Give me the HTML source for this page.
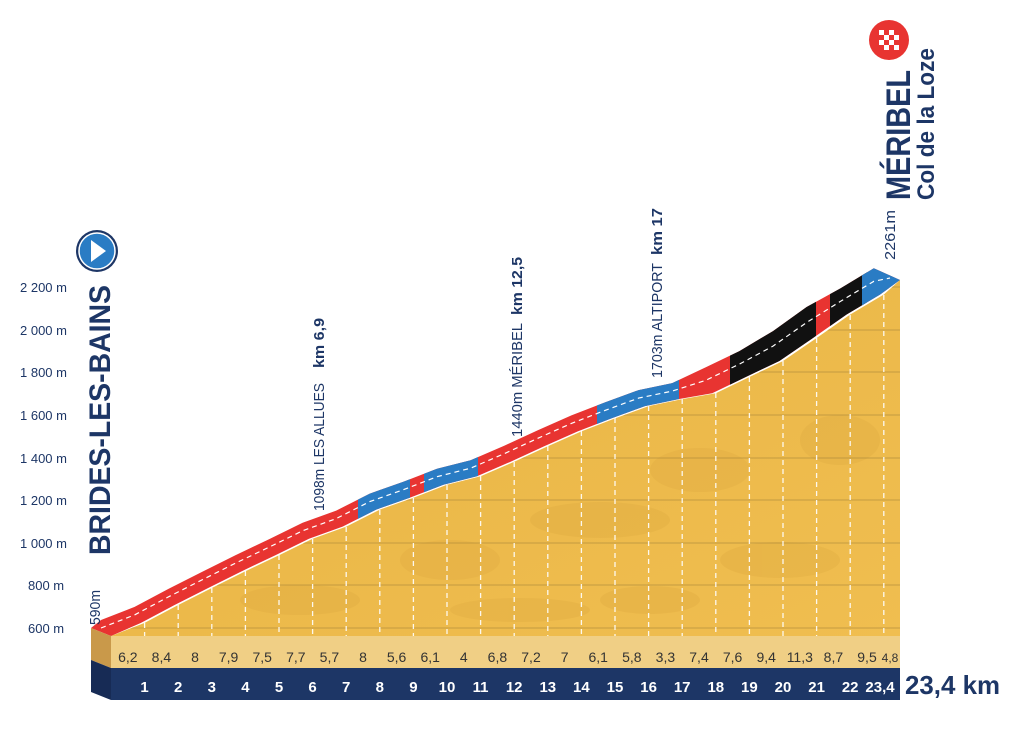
<!DOCTYPE html>
<html><head><meta charset="utf-8"><style>
html,body{margin:0;padding:0;background:#fff;}
svg{display:block;font-family:"Liberation Sans",sans-serif;}
</style></head><body>
<svg width="1024" height="730" viewBox="0 0 1024 730" xmlns="http://www.w3.org/2000/svg">
<defs>
<linearGradient id="yel" x1="0" y1="0" x2="1" y2="1">
<stop offset="0" stop-color="#f3c24c"/><stop offset="0.5" stop-color="#ecb94a"/><stop offset="1" stop-color="#f0be50"/>
</linearGradient>
<clipPath id="face"><polygon points="111,636 144.6,622.9 178.2,605 211.8,588 245.4,571.2 279,555.2 312.6,538.8 346.2,526.6 379.8,509.6 413.4,497.7 447,484.7 480.6,476.2 514.2,461.7 547.8,446.3 581.4,431.4 615,418.4 648.6,406.1 682.2,399.1 715.8,393.3 749.4,377 783,361 816.6,338 850.2,314.5 883.8,294.5 900,280 900,640 111,640"/></clipPath>
<clipPath id="rib"><polygon points="101,620 134.6,606.9 168.2,589 201.8,572 235.4,555.2 269,539.2 302.6,522.8 336.2,510.6 369.8,493.6 403.4,481.7 437,468.7 470.6,460.2 504.2,445.7 537.8,430.3 571.4,415.4 605,402.4 638.6,390.1 672.2,383.1 705.8,367.3 739.4,351.1 773,331.1 806.6,307 840.2,288.5 873.8,268.3 880,271 900,280 880.2,294.5 846.6,314.5 813,338 779.4,361 745.8,377 712.2,393.3 678.6,399.1 645,406.1 611.4,418.4 577.8,431.4 544.2,446.3 510.6,461.7 477,476.2 443.4,484.7 409.8,497.7 376.2,509.6 342.6,526.6 309,538.8 275.4,555.2 241.8,571.2 208.2,588 174.6,605 141,622.9 111,636 91,628"/></clipPath>
</defs>
<g clip-path="url(#face)">
<rect x="100" y="250" width="820" height="400" fill="url(#yel)"/>
<g fill="#d9a43c" opacity="0.25">
<ellipse cx="300" cy="600" rx="60" ry="15"/><ellipse cx="450" cy="560" rx="50" ry="20"/><ellipse cx="600" cy="520" rx="70" ry="18"/><ellipse cx="700" cy="470" rx="50" ry="22"/><ellipse cx="780" cy="560" rx="60" ry="18"/><ellipse cx="520" cy="610" rx="70" ry="12"/><ellipse cx="840" cy="440" rx="40" ry="25"/><ellipse cx="650" cy="600" rx="50" ry="14"/>
</g>
<g stroke="#a8863a" stroke-width="1" opacity="0.6">
<line x1="111" y1="628" x2="900" y2="628"/><line x1="111" y1="585" x2="900" y2="585"/><line x1="111" y1="543" x2="900" y2="543"/><line x1="111" y1="500" x2="900" y2="500"/><line x1="111" y1="458" x2="900" y2="458"/><line x1="111" y1="415" x2="900" y2="415"/><line x1="111" y1="372" x2="900" y2="372"/><line x1="111" y1="330" x2="900" y2="330"/><line x1="111" y1="287" x2="900" y2="287"/>
</g>
</g>
<g stroke="#fff" stroke-width="1.3" stroke-dasharray="5,4" opacity="0.9">
<line x1="144.6" y1="623" x2="144.6" y2="668"/><line x1="178.2" y1="605" x2="178.2" y2="668"/><line x1="211.8" y1="588" x2="211.8" y2="668"/><line x1="245.4" y1="571" x2="245.4" y2="668"/><line x1="279" y1="555" x2="279" y2="668"/><line x1="312.6" y1="539" x2="312.6" y2="668"/><line x1="346.2" y1="527" x2="346.2" y2="668"/><line x1="379.8" y1="510" x2="379.8" y2="668"/><line x1="413.4" y1="498" x2="413.4" y2="668"/><line x1="447" y1="485" x2="447" y2="668"/><line x1="480.6" y1="476" x2="480.6" y2="668"/><line x1="514.2" y1="462" x2="514.2" y2="668"/><line x1="547.8" y1="446" x2="547.8" y2="668"/><line x1="581.4" y1="431" x2="581.4" y2="668"/><line x1="615" y1="418" x2="615" y2="668"/><line x1="648.6" y1="406" x2="648.6" y2="668"/><line x1="682.2" y1="399" x2="682.2" y2="668"/><line x1="715.8" y1="393" x2="715.8" y2="668"/><line x1="749.4" y1="377" x2="749.4" y2="668"/><line x1="783" y1="361" x2="783" y2="668"/><line x1="816.6" y1="338" x2="816.6" y2="668"/><line x1="850.2" y1="315" x2="850.2" y2="668"/><line x1="883.8" y1="295" x2="883.8" y2="668"/>
</g>
<g clip-path="url(#rib)">
<rect x="80" y="250" width="830" height="400" fill="#e83431"/>
<rect x="358" y="250" width="52" height="400" fill="#2a7cc4"/>
<rect x="424" y="250" width="54" height="400" fill="#2a7cc4"/>
<rect x="597" y="250" width="82" height="400" fill="#2a7cc4"/>
<rect x="730" y="250" width="86" height="400" fill="#111"/>
<rect x="830" y="250" width="37" height="400" fill="#111"/>
<rect x="862" y="250" width="50" height="400" fill="#2a7cc4"/>
</g>
<polyline fill="none" stroke="#fff" stroke-width="1.2" stroke-dasharray="5,4" points="101,628 134.6,614.9 168.2,597 201.8,580 235.4,563.2 269,547.2 302.6,530.8 336.2,518.6 369.8,501.6 403.4,489.7 437,476.7 470.6,468.2 504.2,453.7 537.8,438.3 571.4,423.4 605,410.4 638.6,398.1 672.2,391.1 705.8,380.3 739.4,364.1 773,346.1 806.6,322.5 840.2,301.5 873.8,281.3 890,278"/>
<polygon fill="#c9994a" points="91,628 111,636 111,668 91,660"/>
<polygon fill="#172b55" points="91,660 111,668 111,700 91,692"/>
<rect x="111" y="636" width="789" height="32" fill="#f0cf85"/>
<rect x="111" y="668" width="789" height="32" fill="#1d3666"/>
<g fill="#333" font-size="14" text-anchor="middle">
<text x="127.8" y="662">6,2</text><text x="161.4" y="662">8,4</text><text x="195" y="662">8</text><text x="228.6" y="662">7,9</text><text x="262.2" y="662">7,5</text><text x="295.8" y="662">7,7</text><text x="329.4" y="662">5,7</text><text x="363" y="662">8</text><text x="396.6" y="662">5,6</text><text x="430.2" y="662">6,1</text><text x="463.8" y="662">4</text><text x="497.4" y="662">6,8</text><text x="531" y="662">7,2</text><text x="564.6" y="662">7</text><text x="598.2" y="662">6,1</text><text x="631.8" y="662">5,8</text><text x="665.4" y="662">3,3</text><text x="699" y="662">7,4</text><text x="732.6" y="662">7,6</text><text x="766.2" y="662">9,4</text><text x="799.8" y="662">11,3</text><text x="833.4" y="662">8,7</text><text x="867" y="662">9,5</text><text x="890" y="662" font-size="12">4,8</text>
</g>
<g fill="#fff" font-size="15" font-weight="bold" text-anchor="middle">
<text x="144.6" y="692">1</text><text x="178.2" y="692">2</text><text x="211.8" y="692">3</text><text x="245.4" y="692">4</text><text x="279" y="692">5</text><text x="312.6" y="692">6</text><text x="346.2" y="692">7</text><text x="379.8" y="692">8</text><text x="413.4" y="692">9</text><text x="447" y="692">10</text><text x="480.6" y="692">11</text><text x="514.2" y="692">12</text><text x="547.8" y="692">13</text><text x="581.4" y="692">14</text><text x="615" y="692">15</text><text x="648.6" y="692">16</text><text x="682.2" y="692">17</text><text x="715.8" y="692">18</text><text x="749.4" y="692">19</text><text x="783" y="692">20</text><text x="816.6" y="692">21</text><text x="850.2" y="692">22</text><text x="880" y="692">23,4</text>
</g>
<text x="905" y="694" fill="#1d3666" font-size="26" font-weight="bold" textLength="95" lengthAdjust="spacingAndGlyphs">23,4 km</text>
<g fill="#1d3666" font-size="13">
<text x="20" y="292">2 200 m</text><text x="20" y="335">2 000 m</text><text x="20" y="377">1 800 m</text><text x="20" y="420">1 600 m</text><text x="20" y="463">1 400 m</text><text x="20" y="505">1 200 m</text><text x="20" y="548">1 000 m</text><text x="28" y="590">800 m</text><text x="28" y="633">600 m</text>
</g>
<circle cx="97" cy="251" r="21" fill="#1d3666"/><circle cx="97" cy="251" r="18" fill="#2a7cc4" stroke="#fff" stroke-width="1.5"/>
<polygon points="91,240 91,262 106,251" fill="#fff"/>
<text transform="translate(110,555) rotate(-90)" fill="#1d3666" font-size="30" font-weight="bold" textLength="270" lengthAdjust="spacingAndGlyphs">BRIDES-LES-BAINS</text>
<text transform="translate(100,625) rotate(-90)" fill="#1d3666" font-size="15" textLength="35" lengthAdjust="spacingAndGlyphs">590m</text>
<g fill="#1d3666" font-size="15">
<text transform="translate(324,511) rotate(-90)" textLength="128" lengthAdjust="spacingAndGlyphs">1098m  LES ALLUES</text>
<text transform="translate(324,368) rotate(-90)" font-weight="bold" textLength="50" lengthAdjust="spacingAndGlyphs">km 6,9</text>
<text transform="translate(522,437) rotate(-90)" textLength="114" lengthAdjust="spacingAndGlyphs">1440m  MÉRIBEL</text>
<text transform="translate(522,315) rotate(-90)" font-weight="bold" textLength="58" lengthAdjust="spacingAndGlyphs">km 12,5</text>
<text transform="translate(662,378) rotate(-90)" textLength="115" lengthAdjust="spacingAndGlyphs">1703m  ALTIPORT</text>
<text transform="translate(662,255) rotate(-90)" font-weight="bold" textLength="47" lengthAdjust="spacingAndGlyphs">km 17</text>
<text transform="translate(895,260) rotate(-90)" textLength="50" lengthAdjust="spacingAndGlyphs">2261m</text>
</g>
<circle cx="889" cy="40" r="20" fill="#e83431"/>
<g fill="#fff">
<rect x="879" y="30" width="5" height="5"/><rect x="889" y="30" width="5" height="5"/><rect x="884" y="35" width="5" height="5"/><rect x="894" y="35" width="5" height="5"/><rect x="879" y="40" width="5" height="5"/><rect x="889" y="40" width="5" height="5"/><rect x="884" y="45" width="5" height="5"/><rect x="894" y="45" width="5" height="5"/>
</g>
<text transform="translate(910,200) rotate(-90)" fill="#1d3666" font-size="34" font-weight="bold" textLength="130" lengthAdjust="spacingAndGlyphs">MÉRIBEL</text>
<text transform="translate(934,200) rotate(-90)" fill="#1d3666" font-size="24" font-weight="bold" textLength="152" lengthAdjust="spacingAndGlyphs">Col de la Loze</text>
</svg>
</body></html>
